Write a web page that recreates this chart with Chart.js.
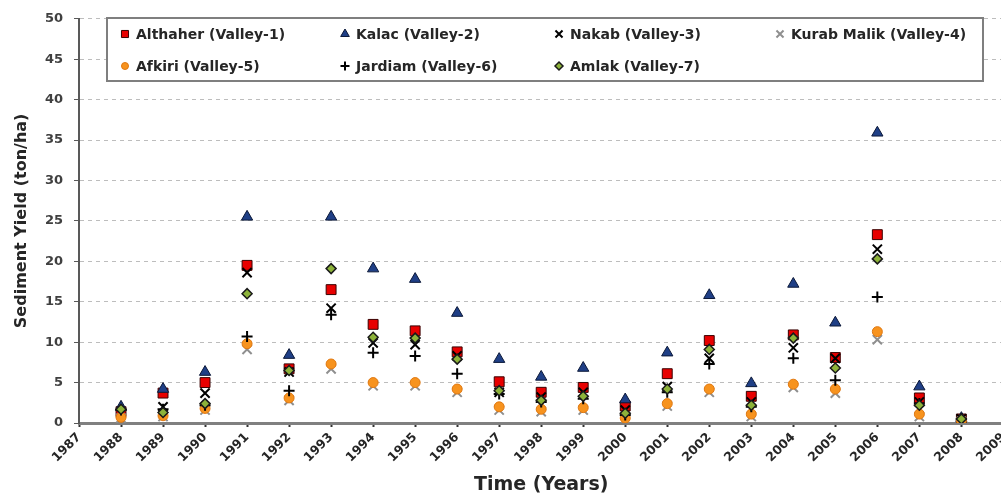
<!DOCTYPE html>
<html>
<head>
<meta charset="utf-8">
<script src="https://cdn.jsdelivr.net/npm/chart.js"></script>
<style>
  html, body { margin: 0; padding: 0; background: #fff; overflow: hidden; }
  #wrap { width: 1017px; height: 499px; }
</style>
</head>
<body>
<div id="wrap"><canvas id="c" width="1017" height="499"></canvas></div>
<script>
// ---- data ----
const tickYears = ['1987','1988','1989','1990','1991','1992','1993','1994','1995','1996','1997','1998','1999','2000','2001','2002','2003','2004','2005','2006','2007','2008','2009'];
const dataYears = ['1988','1989','1990','1991','1992','1993','1994','1995','1996','1997','1998','1999','2000','2001','2002','2003','2004','2005','2006','2007','2008'];
const seriesNames = ['Althaher (Valley-1)','Kalac (Valley-2)','Nakab (Valley-3)','Kurab Malik (Valley-4)','Afkiri (Valley-5)','Jardiam (Valley-6)','Amlak (Valley-7)'];
const althaher = [1.4, 3.7, 5.0, 19.5, 6.7, 16.5, 12.2, 11.4, 8.8, 5.1, 3.8, 4.4, 2.1, 6.1, 10.2, 3.3, 10.9, 8.1, 23.3, 3.1, 0.5];
const kalac    = [2.0, 4.2, 6.3, 25.5, 8.4, 25.5, 19.1, 17.8, 13.6, 7.9, 5.7, 6.8, 2.9, 8.7, 15.8, 4.9, 17.2, 12.4, 35.9, 4.5, 0.6];
const nakab    = [1.2, 2.0, 3.7, 18.6, 6.3, 14.2, 9.9, 9.7, 8.3, 3.8, 3.2, 3.8, 1.6, 4.5, 8.0, 2.6, 9.3, 8.0, 21.5, 2.6, 0.5];
const kurab    = [0.6, 0.8, 1.6, 9.1, 2.8, 6.7, 4.6, 4.6, 3.8, 1.6, 1.4, 1.6, 0.4, 2.1, 3.8, 0.8, 4.4, 3.7, 10.3, 0.8, 0.2];
const afkiri   = [0.7, 0.9, 1.8, 9.8, 3.1, 7.3, 5.0, 5.0, 4.2, 2.0, 1.7, 1.9, 0.6, 2.4, 4.2, 1.1, 4.8, 4.2, 11.3, 1.1, 0.3];
const jardiam  = [1.6, 1.7, 2.2, 10.7, 4.0, 13.4, 8.7, 8.3, 6.1, 3.6, 2.6, 3.0, 1.0, 3.8, 7.3, 2.0, 8.0, 5.3, 15.6, 2.4, 0.5];
const amlak    = [1.7, 1.3, 2.4, 16.0, 6.5, 19.1, 10.6, 10.5, 7.9, 4.0, 2.8, 3.3, 1.2, 4.2, 9.1, 2.2, 10.5, 6.8, 20.3, 2.2, 0.5];
const yTicks = [0, 5, 10, 15, 20, 25, 30, 35, 40, 45, 50];
const yTitle = 'Sediment Yield (ton/ha)';
const xTitle = 'Time (Years)';

// ---- styles ----
const seriesValues = [althaher, kalac, nakab, kurab, afkiri, jardiam, amlak];
const styles = [
  { pointStyle: 'rect',     radius: 7,   bg: '#E80000', border: '#3a0000', bw: 1,   lr: 5 },
  { pointStyle: 'triangle', radius: 6.5, bg: '#1F3F86', border: '#0b1838', bw: 1,   lr: 5 },
  { pointStyle: 'crossRot', radius: 6.5, bg: '#000000', border: '#000000', bw: 2,   lr: 5 },
  { pointStyle: 'crossRot', radius: 6.5, bg: '#8f8f8f', border: '#8f8f8f', bw: 2,   lr: 5 },
  { pointStyle: 'circle',   radius: 5,   bg: '#F7931E', border: '#E07810', bw: 1,   lr: 3.5 },
  { pointStyle: 'cross',    radius: 5.5, bg: '#000000', border: '#000000', bw: 2,   lr: 4.5 },
  { pointStyle: 'rectRot',  radius: 5,   bg: '#8DB33A', border: '#1a1a1a', bw: 1.5, lr: 4 }
];

const datasets = seriesNames.map((name, i) => ({
  label: name,
  data: dataYears.map((yr, j) => ({ x: yr, y: seriesValues[i][j] })),
  showLine: false,
  pointStyle: styles[i].pointStyle,
  pointRadius: styles[i].radius,
  pointHoverRadius: styles[i].radius,
  backgroundColor: styles[i].bg,
  borderColor: styles[i].border,
  pointBorderWidth: styles[i].bw,
  borderWidth: styles[i].bw,
  order: 7 - i
}));

const FONT = "'DejaVu Sans', 'Liberation Sans', sans-serif";

const legendPlugin = {
  id: 'boxLegend',
  afterDraw(chart) {
    const ctx = chart.ctx;
    ctx.save();
    ctx.fillStyle = '#ffffff';
    ctx.fillRect(107, 18, 876, 63);
    ctx.strokeStyle = '#7f7f7f';
    ctx.lineWidth = 2;
    ctx.strokeRect(107, 18, 876, 63);
    const cols = [125, 345, 559, 780];
    const rows = [34, 66];
    ctx.font = "bold 14px " + FONT;
    ctx.textBaseline = 'middle';
    ctx.textAlign = 'left';
    seriesNames.forEach((name, i) => {
      const x = cols[i % 4], y = rows[Math.floor(i / 4)];
      const st = styles[i];
      ctx.fillStyle = st.bg;
      ctx.strokeStyle = st.border;
      ctx.lineWidth = st.bw;
      Chart.helpers.drawPoint(ctx, { pointStyle: st.pointStyle, radius: st.lr, rotation: 0, borderWidth: st.bw }, x, y);
      ctx.fillStyle = '#262626';
      ctx.fillText(name, x + 11, y + 1);
    });
    ctx.restore();
  }
};

new Chart(document.getElementById('c'), {
  type: 'line',
  data: { labels: tickYears, datasets },
  options: {
    responsive: false,
    animation: false,
    devicePixelRatio: 1,
    layout: { padding: { left: 0, right: 7, top: 13, bottom: 0 } },
    plugins: { legend: { display: false }, tooltip: { enabled: false } },
    scales: {
      x: {
        type: 'category',
        offset: false,
        afterFit(scale) { scale.height = 76; },
        grid: { drawOnChartArea: false, drawTicks: true, tickLength: 4, tickColor: '#333333', tickWidth: 2 },
        border: { display: true, color: '#808080', width: 3 },
        ticks: {
          autoSkip: false, maxRotation: 45, minRotation: 45, padding: 3,
          color: '#262626', font: { family: FONT, size: 12.5, weight: 'bold' }
        },
        title: { display: true, text: xTitle, color: '#262626', font: { family: FONT, size: 19, weight: 'bold' }, padding: { top: 0, bottom: 3 } }
      },
      y: {
        min: 0, max: 50,
        afterFit(scale) { scale.width = 79; },
        afterBuildTicks(scale) { scale.ticks = yTicks.map(v => ({ value: v })); },
        grid: { color: '#bdbdbd', lineWidth: 1, drawTicks: true, tickLength: 5, tickColor: '#595959', tickBorderDash: [] },
        border: { display: true, color: '#595959', width: 2, dash: [4, 4] },
        ticks: { padding: 11, color: '#404040', font: { family: FONT, size: 13, weight: 'bold' } },
        title: { display: true, text: yTitle, color: '#262626', font: { family: FONT, size: 16, weight: 'bold' }, padding: { top: 12, bottom: 0 } }
      }
    }
  },
  plugins: [legendPlugin]
});
</script>
</body>
</html>
